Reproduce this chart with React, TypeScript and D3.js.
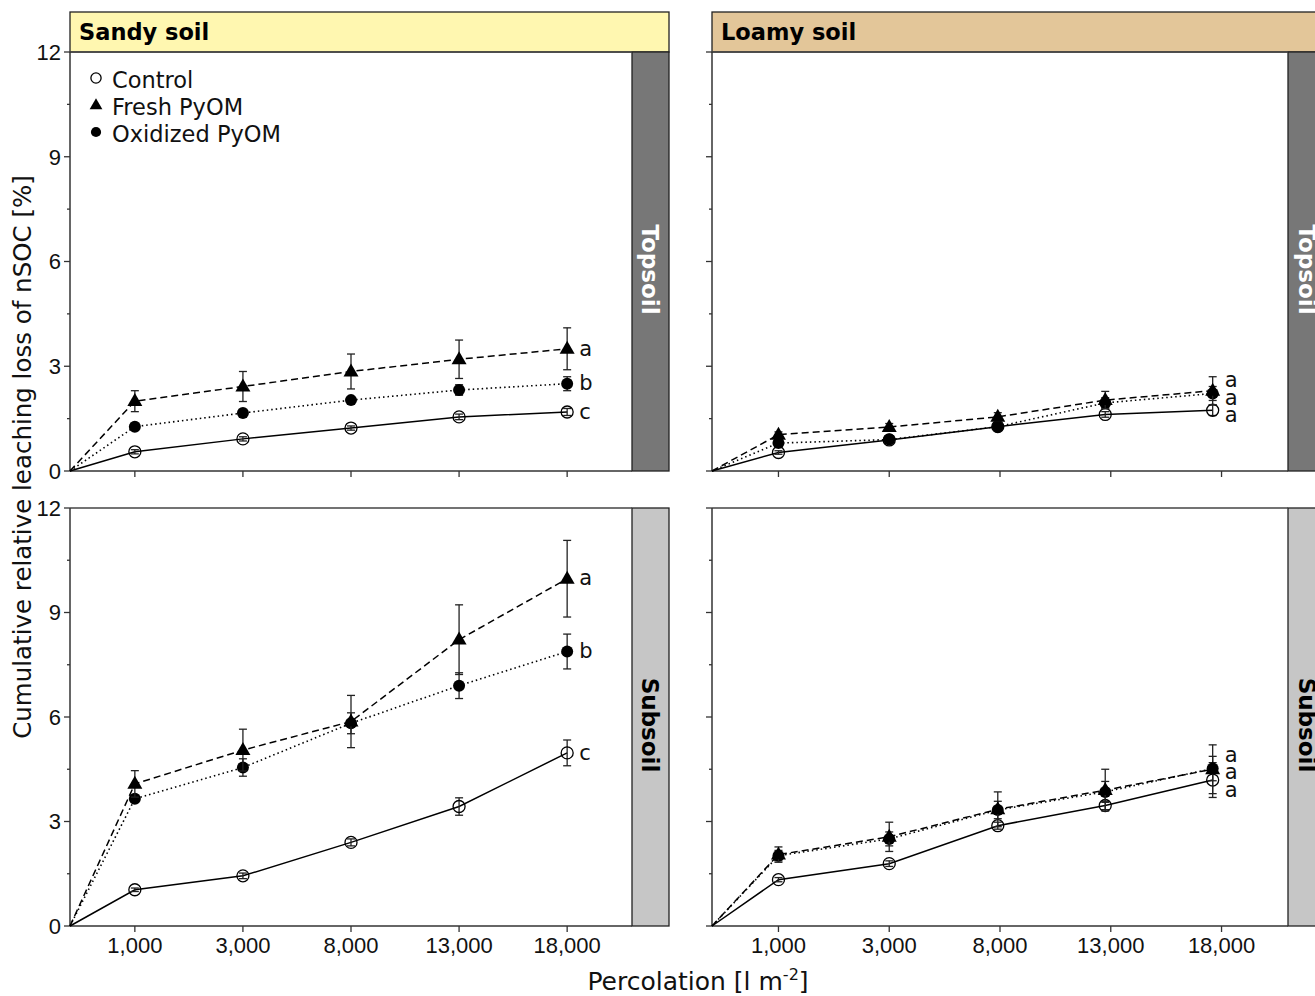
import React from "react";
import * as d3 from "d3";

// ---------- data ----------
const xLabels = ["1,000", "3,000", "8,000", "13,000", "18,000"];
const sandyX = [0, 1, 2, 3, 4];
const loamyX = [0, 1, 1.98, 2.95, 3.92];

// Sandy topsoil
const sandyTopControl = [0.55, 0.92, 1.23, 1.55, 1.69];
const sandyTopControlErr = [0.06, 0.06, 0.06, 0.08, 0.1];
const sandyTopFresh = [2.0, 2.42, 2.85, 3.2, 3.5];
const sandyTopFreshErr = [0.3, 0.43, 0.5, 0.55, 0.6];
const sandyTopOxid = [1.27, 1.66, 2.03, 2.32, 2.5];
const sandyTopOxidErr = [0.05, 0.06, 0.08, 0.15, 0.2];

// Sandy subsoil
const sandySubControl = [1.04, 1.44, 2.4, 3.43, 4.97];
const sandySubControlErr = [0.05, 0.08, 0.1, 0.25, 0.37];
const sandySubFresh = [4.08, 5.05, 5.87, 8.22, 9.97];
const sandySubFreshErr = [0.38, 0.6, 0.75, 1.0, 1.1];
const sandySubOxid = [3.65, 4.55, 5.82, 6.9, 7.88];
const sandySubOxidErr = [0.1, 0.25, 0.3, 0.37, 0.5];

// Loamy topsoil
const loamyTopControl = [0.53, 0.89, 1.27, 1.62, 1.74];
const loamyTopControlErr = [0.05, 0.05, 0.06, 0.08, 0.15];
const loamyTopFresh = [1.04, 1.26, 1.55, 2.03, 2.3];
const loamyTopFreshErr = [0.08, 0.1, 0.12, 0.25, 0.4];
const loamyTopOxid = [0.8, 0.9, 1.27, 1.95, 2.22];
const loamyTopOxidErr = [0.05, 0.06, 0.1, 0.15, 0.2];

// Loamy subsoil
const loamySubControl = [1.33, 1.79, 2.88, 3.46, 4.19];
const loamySubControlErr = [0.06, 0.08, 0.1, 0.12, 0.5];
const loamySubFresh = [2.05, 2.56, 3.35, 3.9, 4.5];
const loamySubFreshErr = [0.22, 0.42, 0.5, 0.6, 0.7];
const loamySubOxid = [2.02, 2.5, 3.33, 3.85, 4.52];
const loamySubOxidErr = [0.15, 0.2, 0.25, 0.3, 0.35];

const sandyTopLetters = ["a", "b", "c"];
const sandySubLetters = ["a", "b", "c"];
const loamyTopLetters = ["a", "a", "a"];
const loamySubLetters = ["a", "a", "a"];

const yTicks = [0, 3, 6, 9, 12];
const yMinorTicks = [1.5, 4.5, 7.5, 10.5];

const soils = ["Sandy soil", "Loamy soil"];
const depths = ["Topsoil", "Subsoil"];
const legendLabels = ["Control", "Fresh PyOM", "Oxidized PyOM"];

// ---------- styles ----------
const SANS = "'DejaVu Sans', Verdana, sans-serif";
const ARIAL = "'Liberation Sans', Arial, sans-serif";
const headerFill = ["#fff7b0", "#e3c699"];
const stripFill = ["#777777", "#c6c6c6"];
const stripText = ["#ffffff", "#000000"];

type Series = { v: number[]; e: number[]; kind: "control" | "fresh" | "oxid" };
type Panel = { x: number[]; series: Series[]; letters: string[]; stacked: boolean };

const panels: Panel[][] = [
  [
    {
      x: sandyX,
      stacked: false,
      letters: sandyTopLetters,
      series: [
        { v: sandyTopControl, e: sandyTopControlErr, kind: "control" },
        { v: sandyTopOxid, e: sandyTopOxidErr, kind: "oxid" },
        { v: sandyTopFresh, e: sandyTopFreshErr, kind: "fresh" },
      ],
    },
    {
      x: loamyX,
      stacked: true,
      letters: loamyTopLetters,
      series: [
        { v: loamyTopControl, e: loamyTopControlErr, kind: "control" },
        { v: loamyTopOxid, e: loamyTopOxidErr, kind: "oxid" },
        { v: loamyTopFresh, e: loamyTopFreshErr, kind: "fresh" },
      ],
    },
  ],
  [
    {
      x: sandyX,
      stacked: false,
      letters: sandySubLetters,
      series: [
        { v: sandySubControl, e: sandySubControlErr, kind: "control" },
        { v: sandySubOxid, e: sandySubOxidErr, kind: "oxid" },
        { v: sandySubFresh, e: sandySubFreshErr, kind: "fresh" },
      ],
    },
    {
      x: loamyX,
      stacked: true,
      letters: loamySubLetters,
      series: [
        { v: loamySubControl, e: loamySubControlErr, kind: "control" },
        { v: loamySubOxid, e: loamySubOxidErr, kind: "oxid" },
        { v: loamySubFresh, e: loamySubFreshErr, kind: "fresh" },
      ],
    },
  ],
];

const cols = [
  { x0: 70, x1: 632, s1: 669 },
  { x0: 712, x1: 1288, s1: 1326 },
];
const rows = [
  { y0: 52, y1: 471 },
  { y0: 508, y1: 926 },
];

const dashFor: Record<string, string | undefined> = {
  control: undefined,
  fresh: "7,4",
  oxid: "1.5,3",
};

function Marker({ kind, cx, cy, s = 1 }: { kind: string; cx: number; cy: number; s?: number }) {
  if (kind === "control")
    return <circle cx={cx} cy={cy} r={6 * s} fill="none" stroke="#000" strokeWidth={1.3} />;
  if (kind === "oxid") return <circle cx={cx} cy={cy} r={6 * s} fill="#000" />;
  const h = 13 * s;
  const w = 15 * s;
  return (
    <path
      d={`M${cx},${cy - h * 0.62}L${cx + w / 2},${cy + h * 0.38}L${cx - w / 2},${cy + h * 0.38}Z`}
      fill="#000"
    />
  );
}

function PanelView({ p, r, c }: { p: Panel; r: number; c: number }) {
  const col = cols[c];
  const row = rows[r];
  const xs = d3.scaleLinear().domain([-0.6, 4.6]).range([col.x0, col.x1]);
  const ys = d3.scaleLinear().domain([0, 12]).range([row.y1, row.y0]);
  const line = d3
    .line<[number, number]>()
    .x((d) => xs(d[0]))
    .y((d) => ys(d[1]));

  const lastX = xs(p.x[p.x.length - 1]);
  let letterYs: number[];
  const order = [2, 1, 0]; // fresh, oxid, control
  if (p.stacked) {
    const mean = d3.mean(p.series, (s) => s.v[s.v.length - 1]) as number;
    letterYs = [ys(mean) - 17.5, ys(mean), ys(mean) + 17.5];
  } else {
    letterYs = order.map((i) => ys(p.series[i].v[p.series[i].v.length - 1]));
  }

  return (
    <g>
      {/* strip */}
      <rect x={col.x1} y={row.y0} width={col.s1 - col.x1} height={row.y1 - row.y0} fill={stripFill[r]} stroke="#222" strokeWidth={1.3} />
      <text
        transform={`translate(${(col.x1 + col.s1) / 2},${(row.y0 + row.y1) / 2 + 8}) rotate(90)`}
        textAnchor="middle"
        dy="0.35em"
        fontFamily={SANS}
        fontWeight="bold"
        fontSize={23}
        fill={stripText[r]}
      >
        {depths[r]}
      </text>
      {/* frame */}
      <line x1={col.x0} x2={col.x1} y1={row.y0} y2={row.y0} stroke="#444" strokeWidth={1.3} />
      <line x1={col.x0} x2={col.x1} y1={row.y1} y2={row.y1} stroke="#333" strokeWidth={1.5} />
      <line x1={col.x0} x2={col.x0} y1={row.y0} y2={row.y1} stroke="#333" strokeWidth={1.5} />
      {/* y ticks */}
      {yTicks.map((t) => (
        <line key={"yt" + t} x1={col.x0 - 6} x2={col.x0} y1={ys(t)} y2={ys(t)} stroke="#333" strokeWidth={1.3} />
      ))}
      {yMinorTicks.map((t) => (
        <line key={"ym" + t} x1={col.x0 - 3} x2={col.x0} y1={ys(t)} y2={ys(t)} stroke="#333" strokeWidth={1.3} />
      ))}
      {c === 0 &&
        yTicks.map((t) => (
          <text key={"yl" + t} x={col.x0 - 9} y={ys(t)} dy="0.36em" textAnchor="end" fontFamily={ARIAL} fontSize={22} fill="#111">
            {t}
          </text>
        ))}
      {/* x ticks */}
      {xLabels.map((lab, i) => (
        <g key={"xt" + i}>
          <line x1={xs(i)} x2={xs(i)} y1={row.y1} y2={row.y1 + 6} stroke="#333" strokeWidth={1.3} />
          {r === 1 && (
            <text x={xs(i)} y={row.y1 + 27} textAnchor="middle" fontFamily={ARIAL} fontSize={22} fill="#111">
              {lab}
            </text>
          )}
        </g>
      ))}
      {/* lines */}
      {p.series.map((s, si) => {
        const pts: [number, number][] = [[-0.6, 0], ...s.v.map((v, i) => [p.x[i], v] as [number, number])];
        return (
          <path
            key={"l" + si}
            d={line(pts) as string}
            fill="none"
            stroke="#000"
            strokeWidth={s.kind === "oxid" ? 1.6 : 1.5}
            strokeDasharray={dashFor[s.kind]}
          />
        );
      })}
      {/* error bars + markers */}
      {p.series.map((s, si) =>
        s.v.map((v, i) => {
          const cx = xs(p.x[i]);
          const t = ys(v + s.e[i]);
          const b = ys(v - s.e[i]);
          return (
            <g key={"m" + si + "-" + i}>
              <line x1={cx} x2={cx} y1={t} y2={b} stroke="#222" strokeWidth={1.3} />
              <line x1={cx - 4} x2={cx + 4} y1={t} y2={t} stroke="#222" strokeWidth={1.3} />
              <line x1={cx - 4} x2={cx + 4} y1={b} y2={b} stroke="#222" strokeWidth={1.3} />
              <Marker kind={s.kind} cx={cx} cy={ys(v)} />
            </g>
          );
        })
      )}
      {/* letters */}
      {p.letters.map((l, i) => (
        <text key={"lt" + i} x={lastX + 12} y={letterYs[i]} dy="0.32em" fontFamily={SANS} fontSize={21} fill="#111">
          {l}
        </text>
      ))}
    </g>
  );
}

export default function App() {
  return (
    <svg width={1315} height={996} style={{ position: "absolute", left: 0, top: 0, background: "#fff" }}>
      <rect x={0} y={0} width={1315} height={996} fill="#fff" />
      {/* headers */}
      {soils.map((s, c) => (
        <g key={s}>
          <rect x={cols[c].x0} y={12} width={cols[c].s1 - cols[c].x0} height={40} fill={headerFill[c]} stroke="#222" strokeWidth={1.3} />
          <text x={cols[c].x0 + 9} y={40} fontFamily={SANS} fontWeight="bold" fontSize={22.5} fill="#000">
            {s}
          </text>
        </g>
      ))}
      {panels.map((row, r) => row.map((p, c) => <PanelView key={r + "-" + c} p={p} r={r} c={c} />))}
      {/* legend */}
      {legendLabels.map((lab, i) => {
        const kind = ["control", "fresh", "oxid"][i];
        const y = 80 + i * 27;
        return (
          <g key={lab}>
            <Marker kind={kind} cx={96} cy={y - 2} s={0.85} />
            <text x={112} y={y} dy="0.35em" fontFamily={SANS} fontSize={22.5} fill="#111">
              {lab}
            </text>
          </g>
        );
      })}
      {/* axis titles */}
      <text transform="translate(31,457) rotate(-90)" textAnchor="middle" fontFamily={SANS} fontSize={24.5} fill="#111">
        Cumulative relative leaching loss of nSOC [%]
      </text>
      <text x={698} y={990} textAnchor="middle" fontFamily={SANS} fontSize={25} fill="#111">
        Percolation [l m
        <tspan dy={-10} fontSize={16}>
          -2
        </tspan>
        <tspan dy={10}>]</tspan>
      </text>
    </svg>
  );
}
